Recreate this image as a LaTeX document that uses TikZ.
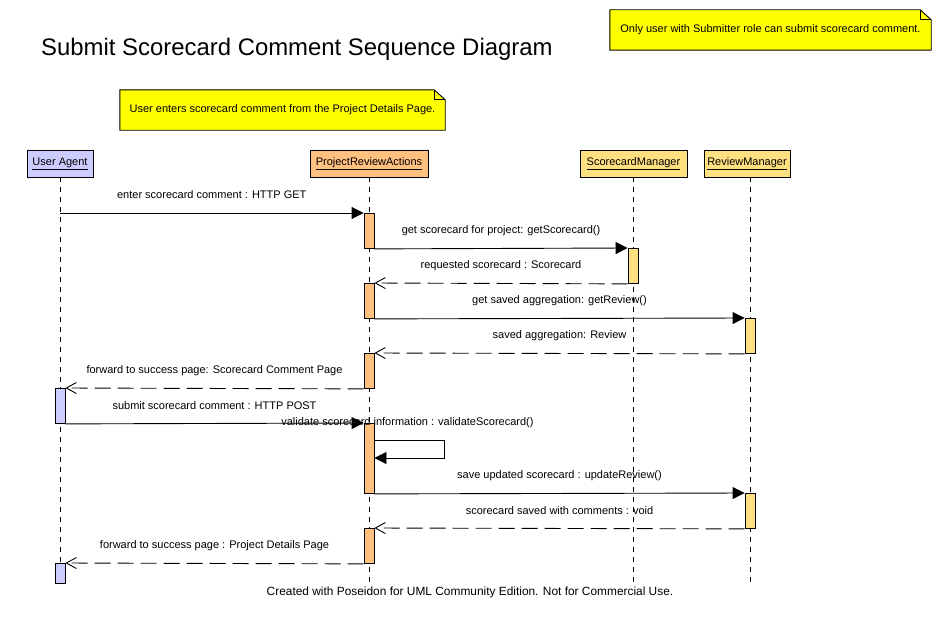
\documentclass[tikz,border=0pt]{standalone}
\usepackage{fontspec}
\setmainfont{Liberation Sans}
\usetikzlibrary{arrows.meta,calc,backgrounds}
\definecolor{uacol}{HTML}{CCCCFF}
\definecolor{pracol}{HTML}{FFC080}
\definecolor{mgrcol}{HTML}{FFE080}
\definecolor{notecol}{HTML}{FFFF00}
\begin{document}
\begin{tikzpicture}[x=1pt,y=-1pt,
  every node/.style={font=\fontsize{11}{13}\selectfont},
  head/.style={draw, line width=0.9pt, minimum height=27pt, inner sep=0pt, font=\fontsize{11}{13}\selectfont},
  life/.style={line width=0.9pt, dash pattern=on 5pt off 5pt},
  act/.style={draw, line width=0.9pt, minimum width=10pt, inner sep=0pt, anchor=north},
  call/.style={line width=0.9pt, -{Triangle[length=12pt,width=12pt]}},
  reply/.style={line width=0.9pt, dash pattern=on 16pt off 7pt, -{Straight Barb[length=10pt,width=11pt,line width=0.9pt]}},
  lbl/.style={midway, yshift=18pt, inner sep=0pt},
  notebox/.style={inner sep=0pt, minimum height=40pt},
  notefill/.style={fill=notecol, draw, line width=0.9pt}
]
\useasboundingbox (0,0) rectangle (941,618);

% title
\node[anchor=base west, inner sep=0pt, font=\fontsize{23.9}{28}\selectfont] (title) at (41,56) {Submit Scorecard Comment Sequence Diagram};

% notes
\node[notebox, minimum width=321pt] (n1) at (770.5,30) {Only user with Submitter role can submit scorecard comment.};
\node[notebox, minimum width=325pt] (n2) at (282.5,110) {User enters scorecard comment from the Project Details Page.};
\begin{scope}[on background layer]
  \fill[white] (0,0) rectangle (941,618);
  \foreach \n in {n1,n2}{
    \draw[notefill] (\n.north west) -- ($(\n.north east)+(-11,0)$) -- ($(\n.north east)+(0,10)$) -- (\n.south east) -- (\n.south west) -- cycle;
    \draw[line width=0.9pt] ($(\n.north east)+(-11,0)$) -- ++(0,10) -- ++(11,0);
  }
\end{scope}

% heads
\node[head, fill=uacol, minimum width=66pt] (ua) at (60,163.5) {\underline{User Agent}};
\node[head, fill=pracol, minimum width=118pt] (pra) at (369,163.5) {\underline{ProjectReviewActions}};
\node[head, fill=mgrcol, minimum width=107pt] (sm) at (633.5,163.5) {\underline{ScorecardManager}};
\node[head, fill=mgrcol, minimum width=86pt] (rm) at (747,163.5) {\underline{ReviewManager}};

% lifelines
\coordinate (uab) at (60,583);
\coordinate (prab) at (369,583);
\coordinate (smb) at (633.5,583);
\coordinate (rmt) at (750,177);
\coordinate (rmb) at (750,583);
\draw[life] (ua.south) -- (uab);
\draw[life] (pra.south) -- (prab);
\draw[life] (sm.south) -- (smb);
\draw[life] (rmt) -- (rmb);

% activations
\node[act, fill=pracol, minimum height=35pt] (a1) at (369,213) {};
\node[act, fill=mgrcol, minimum height=35pt] (s1) at (633,248) {};
\node[act, fill=pracol, minimum height=35pt] (a2) at (369,283) {};
\node[act, fill=mgrcol, minimum height=35pt] (r1) at (750,318) {};
\node[act, fill=pracol, minimum height=35pt] (a3) at (369,353) {};
\node[act, fill=uacol, minimum height=35pt] (u1) at (60,388) {};
\node[act, fill=pracol, minimum height=70pt] (a4) at (369,423) {};
\node[act, fill=mgrcol, minimum height=35pt] (r2) at (750,493) {};
\node[act, fill=pracol, minimum height=35pt] (a5) at (369,528) {};
\node[act, fill=uacol, minimum height=20pt] (u2) at (60,563) {};

% messages
\draw[call] (ua |- a1.north) -- node[lbl] {enter scorecard comment : HTTP GET} (a1.north west);
\draw[call] (a1.south east) -- node[lbl] {get scorecard for project: getScorecard()} (s1.north west);
\draw[reply] (s1.south west) -- node[lbl] {requested scorecard : Scorecard} (a2.north east);
\draw[call] (a2.south east) -- node[lbl] {get saved aggregation: getReview()} (r1.north west);
\draw[reply] (r1.south west) -- node[lbl] {saved aggregation: Review} (a3.north east);
\draw[reply] (a3.south west) -- node[lbl] {forward to success page: Scorecard Comment Page} (u1.north east);
\draw[call] (u1.south east) -- node[lbl] {submit scorecard comment : HTTP POST} (a4.north west);
\draw[call] ($(a4.north east)+(0,17)$) -- ++(70,0) -- ++(0,18) -- ++(-70,0);
\node[inner sep=0pt] (selflbl) at ($(a4.north east)+(33,0)$) {validate scorecard information : validateScorecard()};
\draw[call] (a4.south east) -- node[lbl] {save updated scorecard : updateReview()} (r2.north west);
\draw[reply] (r2.south west) -- node[lbl] {scorecard saved with comments : void} (a5.north east);
\draw[reply] (a5.south west) -- node[lbl] {forward to success page : Project Details Page} (u2.north east);

% footer
\node[inner sep=0pt, font=\fontsize{11.9}{14}\selectfont] (foot) at (470,592) {Created with Poseidon for UML Community Edition. Not for Commercial Use.};
\end{tikzpicture}
\end{document}
